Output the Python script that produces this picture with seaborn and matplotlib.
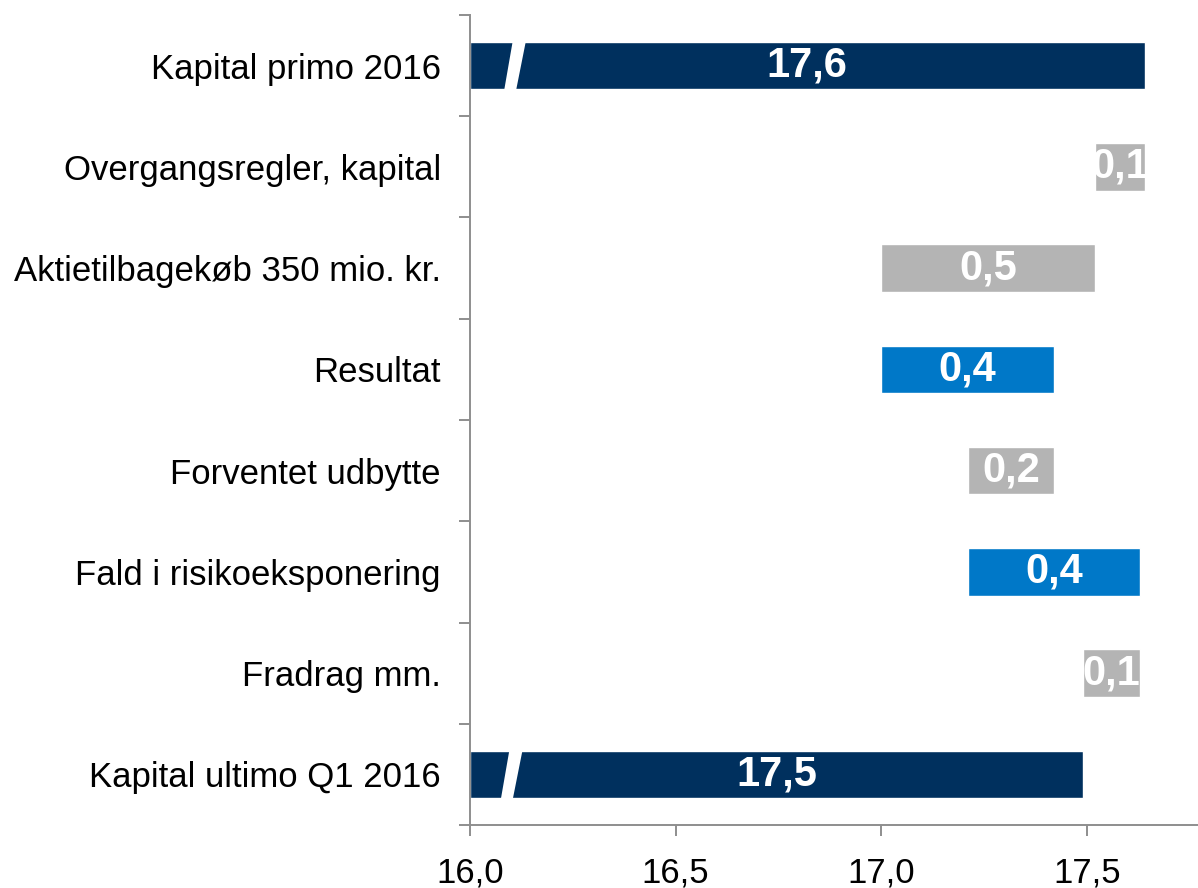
import numpy as np
import pandas as pd
import matplotlib
matplotlib.use("Agg")
import matplotlib.pyplot as plt
import seaborn as sns

sns.set_style("white")
plt.rcParams["font.family"] = ["Liberation Sans", "DejaVu Sans"]
plt.rcParams["text.color"] = "black"
plt.rcParams["xtick.color"] = "black"
plt.rcParams["ytick.color"] = "black"

# dados
labels = ["Kapital primo 2016", "Overgangsregler, kapital", "Aktietilbagekøb 350 mio. kr.",
          "Resultat", "Forventet udbytte", "Fald i risikoeksponering", "Fradrag mm.",
          "Kapital ultimo Q1 2016"]
start_total = 17.64
changes = [-0.12, -0.52, 0.42, -0.21, 0.42, -0.14]
end_total = 17.49
kinds = ["total", "neg", "neg", "pos", "neg", "pos", "neg", "total"]

x0 = 16.0
x1 = 17.77

# waterfall: lo/hi de cada barra
lo, hi, shown = [x0], [start_total], [start_total]
level = start_total
for c in changes:
    new = level + c
    lo.append(min(level, new))
    hi.append(max(level, new))
    shown.append(abs(c))
    level = new
lo.append(x0)
hi.append(end_total)
shown.append(end_total)

df = pd.DataFrame({"label": labels, "lo": lo, "hi": hi, "kind": kinds, "shown": shown})

cores = {"total": "#00305E", "neg": "#B4B4B4", "pos": "#0078C8"}
spine_col = "#8E8E8E"
bw = 0.47

fig = plt.figure(figsize=(11.98, 8.88), dpi=100)
ax = fig.add_axes([470 / 1198, 1 - 825 / 888, 1 - 470 / 1198, (825 - 15) / 888])

sns.barplot(data=df, x="hi", y="label", hue="kind", palette=cores, dodge=False,
            width=bw, saturation=1, legend=False, ax=ax, orient="h")
# cobre a base invisível
sns.barplot(data=df, x="lo", y="label", color="white", width=bw, saturation=1,
            ax=ax, orient="h")

ax.set_xlim(x0, x1)
ax.set_ylim(len(labels) - 0.5, -0.5)

# quebra nas barras totais
for i in [0, len(labels) - 1]:
    off = 0 if i == 0 else -0.008
    yt, yb = i - bw / 2 - 0.01, i + bw / 2 + 0.01
    ax.fill([16.083 + off, 16.112 + off, 16.136 + off, 16.104 + off],
            [yb, yb, yt, yt], color="white", lw=0, zorder=3)

# rótulos das barras
for i, r in df.iterrows():
    cx = (r["lo"] + r["hi"]) / 2
    txt = f"{r['shown']:.1f}".replace(".", ",")
    ax.text(cx, i, txt, ha="center", va="center", color="white",
            fontsize=30, fontweight="bold", zorder=4)

# eixos
ax.set_xlabel("")
ax.set_ylabel("")
ticks = [16.0, 16.5, 17.0, 17.5]
ax.set_xticks(ticks)
ax.set_xticklabels([f"{t:.1f}".replace(".", ",") for t in ticks], fontsize=25)
ax.tick_params(axis="x", bottom=True, direction="out", length=8, width=1.4,
               color=spine_col, labelcolor="black", pad=15)
ax.set_yticks(range(len(labels)))
ax.set_yticklabels(labels, fontsize=25)
ax.set_yticks(np.arange(-0.5, len(labels), 1), minor=True)
ax.tick_params(axis="y", which="major", left=False, length=0, pad=21, labelcolor="black")
ax.tick_params(axis="y", which="minor", left=True, direction="out", length=8, width=1.4,
               color=spine_col)

for s in ["top", "right"]:
    ax.spines[s].set_visible(False)
for s in ["left", "bottom"]:
    ax.spines[s].set_color(spine_col)
    ax.spines[s].set_linewidth(1.4)
    ax.spines[s].set_zorder(5)

fig.savefig("out.png", dpi=100)
